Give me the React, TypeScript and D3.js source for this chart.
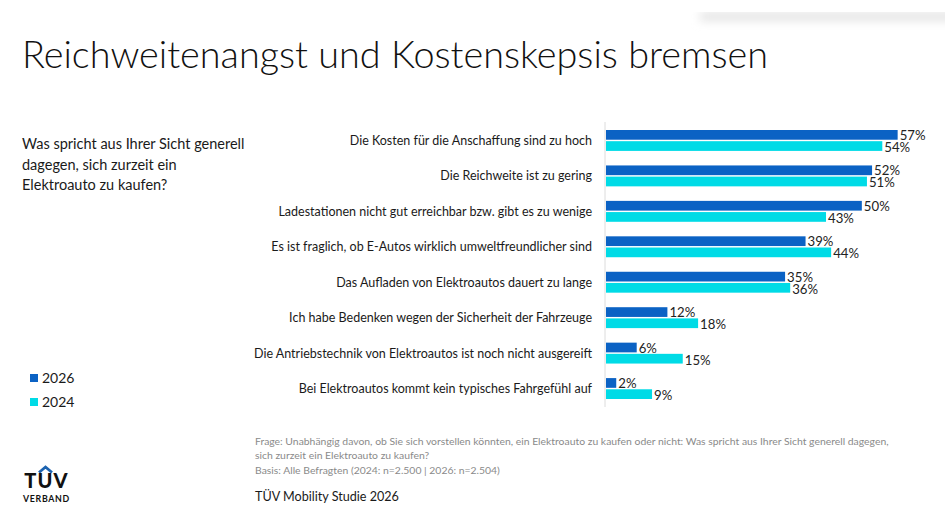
import * as d3 from "d3";

const categories = [
  "Die Kosten für die Anschaffung sind zu hoch",
  "Die Reichweite ist zu gering",
  "Ladestationen nicht gut erreichbar bzw. gibt es zu wenige",
  "Es ist fraglich, ob E-Autos wirklich umweltfreundlicher sind",
  "Das Aufladen von Elektroautos dauert zu lange",
  "Ich habe Bedenken wegen der Sicherheit der Fahrzeuge",
  "Die Antriebstechnik von Elektroautos ist noch nicht ausgereift",
  "Bei Elektroautos kommt kein typisches Fahrgefühl auf",
];
const series = ["2026", "2024"];
const values2026 = [57, 52, 50, 39, 35, 12, 6, 2];
const values2024 = [54, 51, 43, 44, 36, 18, 15, 9];

const questionLines = [
  "Was spricht aus Ihrer Sicht generell",
  "dagegen, sich zurzeit ein",
  "Elektroauto zu kaufen?",
];
const footLines = [
  "Frage: Unabhängig davon, ob Sie sich vorstellen könnten, ein Elektroauto zu kaufen oder nicht: Was spricht aus Ihrer Sicht generell dagegen,",
  "sich zurzeit ein Elektroauto zu kaufen?",
  "Basis: Alle Befragten (2024: n=2.500 | 2026: n=2.504)",
];

const COLORS: Record<string, string> = { "2026": "#0b62c4", "2024": "#00dbe6" };
const FONT = "Lato, 'Open Sans', sans-serif";

export default function App() {
  const width = 945;
  const height = 532;

  const x = d3.scaleLinear().domain([0, 60]).range([606, 913]);
  const y = d3.scaleBand<string>().domain(categories).range([130, 399]).paddingInner(0.41).paddingOuter(0);
  const inner = d3.scaleBand<string>().domain(series).range([0, y.bandwidth()]).paddingInner(0.13);

  const rows = categories.map((c, i) => ({ c, v: { "2026": values2026[i], "2024": values2024[i] } as Record<string, number> }));

  return (
    <svg
      width={width}
      height={height}
      viewBox={`0 0 ${width} ${height}`}
      style={{ position: "absolute", left: 0, top: 0, background: "#fff", fontFamily: FONT }}
    >
      <defs>
        <filter id="shadow" x="-20%" y="-200%" width="140%" height="500%">
          <feGaussianBlur stdDeviation="5" />
        </filter>
      </defs>
      <rect x={0} y={0} width={width} height={height} fill="#fff" />

      {/* soft shadow top right */}
      <rect x={700} y={12} width={265} height={9} fill="#e4e4e4" filter="url(#shadow)" />
      <rect x={670} y={0} width={275} height={12} fill="#fff" />

      {/* title */}
      <text x={22} y={68} fontSize={37.8} fontWeight={300} fill="#111">
        Reichweitenangst und Kostenskepsis bremsen
      </text>

      {/* question */}
      {questionLines.map((l, i) => (
        <text key={l} x={22} y={149 + i * 20.5} fontSize={14.5} fill="#1a1a1a">
          {l}
        </text>
      ))}

      {/* axis line */}
      <line x1={605} x2={605} y1={122} y2={407} stroke="#dcdcdc" strokeWidth={1} />

      {rows.map((r) => {
        const y0 = y(r.c)!;
        return (
          <g key={r.c}>
            <text x={592} y={y0 + y.bandwidth() / 2 + 4.5} fontSize={12.5} textAnchor="end" fill="#1a1a1a">
              {r.c}
            </text>
            {series.map((s, j) => {
              const by = y0 + inner(s)!;
              return (
                <g key={s}>
                  <rect x={x(0)} y={by} width={x(r.v[s]) - x(0)} height={inner.bandwidth()} fill={COLORS[s]} />
                  <text
                    x={x(r.v[s]) + 2}
                    y={by + inner.bandwidth() / 2 + (j === 0 ? 5 : 6)}
                    fontSize={13.2}
                    fill="#222"
                  >
                    {r.v[s]}%
                  </text>
                </g>
              );
            })}
          </g>
        );
      })}

      {/* legend */}
      {series.map((s, i) => (
        <g key={s} transform={`translate(30,${374 + i * 24})`}>
          <rect x={0} y={0} width={8} height={8} fill={COLORS[s]} />
          <text x={12} y={8.5} fontSize={14} fill="#1a1a1a">
            {s}
          </text>
        </g>
      ))}

      {/* footnotes */}
      {footLines.map((l, i) => (
        <text key={l} x={255} y={445 + i * 14.3} fontSize={10.4} fill="#8a8a8a">
          {l}
        </text>
      ))}
      <text x={255} y={501} fontSize={12.6} fill="#1a1a1a">
        TÜV Mobility Studie 2026
      </text>

      {/* logo */}
      <g>
        <path d="M39,472.5 L45.5,467 L52,472.5" fill="none" stroke="#1c63b0" strokeWidth={2.8} />
        <text x={46.5} y={488} fontSize={20} fontWeight={900} textAnchor="middle" fill="#111" letterSpacing={1.2}>
          TUV
        </text>
        <text x={46.5} y={502} fontSize={8.8} fontWeight={700} textAnchor="middle" fill="#111" letterSpacing={0.7}>
          VERBAND
        </text>
      </g>
    </svg>
  );
}
